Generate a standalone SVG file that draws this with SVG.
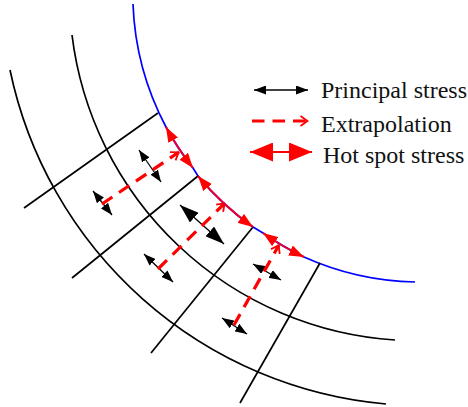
<svg xmlns="http://www.w3.org/2000/svg" width="468" height="407" viewBox="0 0 468 407">
<style>
.grid{fill:none;stroke:#000;stroke-width:1.7}
.blue{fill:none;stroke:#00f;stroke-width:1.7}
.bl{stroke:#000;stroke-width:1.3}
.dash{fill:none;stroke:#f00;stroke-width:3.2;stroke-dasharray:12.5 8}
.chev{fill:none;stroke:#f00;stroke-width:1.8}
.hot{fill:none;stroke:#e0003a;stroke-width:2}
.lab{font-family:"Liberation Serif","Times New Roman",serif;font-size:24px;fill:#111}
</style>
<defs>
<marker id="k" markerUnits="userSpaceOnUse" viewBox="0 0 12 9" refX="12" refY="4.500" markerWidth="12" markerHeight="9" orient="auto-start-reverse"><path d="M0 0L12 4.500L0 9z" fill="#000"/></marker>
<marker id="kb" markerUnits="userSpaceOnUse" viewBox="0 0 19 13" refX="19" refY="6.500" markerWidth="19" markerHeight="13" orient="auto-start-reverse"><path d="M0 0L19 6.500L0 13z" fill="#000"/></marker>
<marker id="r" markerUnits="userSpaceOnUse" viewBox="0 0 15 11" refX="15" refY="5.500" markerWidth="15" markerHeight="11" orient="auto-start-reverse"><path d="M0 0L15 5.500L0 11z" fill="#f00"/></marker>
<marker id="rb" markerUnits="userSpaceOnUse" viewBox="0 0 23 19" refX="23" refY="9.500" markerWidth="23" markerHeight="19" orient="auto-start-reverse"><path d="M0 0L23 9.500L0 19z" fill="#f00"/></marker>
<marker id="c" markerUnits="userSpaceOnUse" viewBox="0 0 9 12" refX="8.500" refY="6" markerWidth="9" markerHeight="12" orient="auto"><path d="M1 1L8 6L1 11" class="chev"/></marker>
</defs>
<g id="mesh">
<path class="blue" d="M133 4A285 285 0 0 0 166 127A285 285 0 0 0 193 168L198 176A285 285 0 0 0 253 227L263 233A285 285 0 0 0 304 257A285 285 0 0 0 415 282"/>
<path class="grid" d="M72 35A348 348 0 0 0 395 340"/>
<path class="grid" d="M10 70A422 422 0 0 0 386 404"/>
<path class="grid" d="M158 113L24 208"/>
<path class="grid" d="M198 176L72 278"/>
<path class="grid" d="M253 227L151 353"/>
<path class="grid" d="M320 263L240 403"/>
</g>
<g id="principal-stress">
<line class="bl" x1="139" y1="150" x2="161" y2="182" marker-start="url(#k)" marker-end="url(#k)"/>
<line class="bl" x1="93" y1="191" x2="112" y2="215" marker-start="url(#k)" marker-end="url(#k)"/>
<line class="bl" x1="180" y1="205" x2="224" y2="244" marker-start="url(#kb)" marker-end="url(#kb)"/>
<line class="bl" x1="144" y1="254" x2="173" y2="282" marker-start="url(#k)" marker-end="url(#k)"/>
<line class="bl" x1="253" y1="264" x2="281" y2="280" marker-start="url(#k)" marker-end="url(#k)"/>
<line class="bl" x1="222" y1="318" x2="247" y2="334" marker-start="url(#k)" marker-end="url(#k)"/>
</g>
<g id="extrapolation">
<line class="dash" x1="102" y1="204" x2="179" y2="152" marker-end="url(#c)"/>
<line class="dash" x1="158" y1="269" x2="225" y2="203" marker-end="url(#c)"/>
<line class="dash" x1="234" y1="325" x2="279" y2="245" marker-end="url(#c)"/>
</g>
<g id="hot-spot-stress">
<path class="hot" d="M166 127A285 285 0 0 0 193 168" marker-start="url(#r)" marker-end="url(#r)"/>
<path class="hot" d="M198 176A285 285 0 0 0 253 227" marker-start="url(#r)" marker-end="url(#r)"/>
<path class="hot" d="M263 233A285 285 0 0 0 304 257" marker-start="url(#r)" marker-end="url(#r)"/>
</g>
<g id="legend-principal">
<line class="bl" x1="254" y1="90" x2="308" y2="90" marker-start="url(#k)" marker-end="url(#k)"/>
<text class="lab" x="321" y="98">Principal stress</text>
</g>
<g id="legend-extrapolation">
<line class="dash" x1="252" y1="121" x2="308" y2="121" marker-end="url(#c)"/>
<text class="lab" x="321" y="132">Extrapolation</text>
</g>
<g id="legend-hot">
<line class="hot" x1="250" y1="152" x2="312" y2="152" style="stroke:#f00" marker-start="url(#rb)" marker-end="url(#rb)"/>
<text class="lab" x="323" y="163">Hot spot stress</text>
</g>
</svg>
